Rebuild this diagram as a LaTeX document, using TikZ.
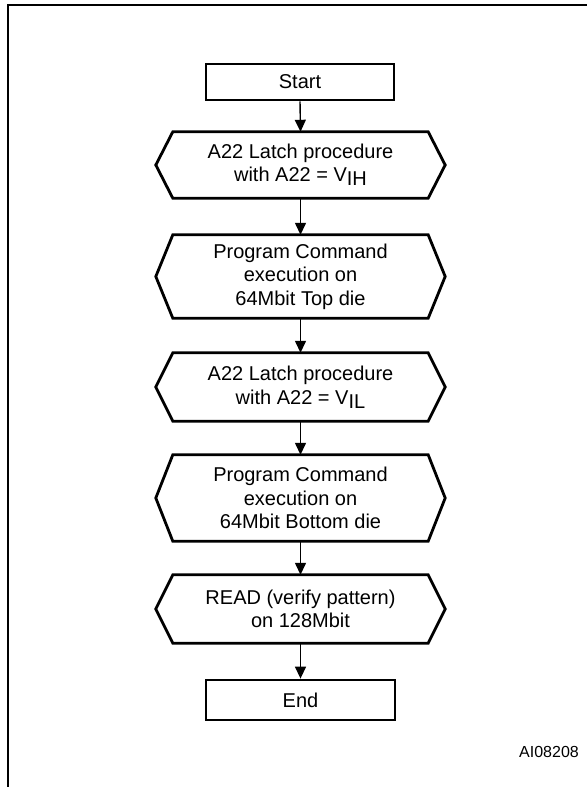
\documentclass[tikz,border=0pt]{standalone}
\usepackage{fontspec}
\setmainfont{Liberation Sans}
\usetikzlibrary{arrows.meta}
\tikzset{
  boxline/.style={line width=2.8pt, line join=miter},
  flowbox/.style={draw, boxline, inner sep=0pt, align=center, font=\fontsize{20pt}{23.5pt}\selectfont},
  hexcore/.style={inner sep=0pt, minimum width=255pt, align=center, font=\fontsize{20pt}{23.5pt}\selectfont},
  flowarrow/.style={line width=1.4pt, -{Triangle[length=12pt,width=11pt]}},
  frameline/.style={line width=2.2pt}
}
\newcommand\hexoutline[1]{\draw[boxline] (#1.north west) -- (#1.north east) -- ([xshift=17pt]#1.east) -- (#1.south east) -- (#1.south west) -- ([xshift=-17pt]#1.west) -- cycle;}
\newcommand\lowsub[1]{\raisebox{-4pt}{#1}}
\begin{document}
\begin{tikzpicture}[x=1pt,y=1pt]
\useasboundingbox (0,0) rectangle (587,-787);
\draw[frameline] (8,-787) -- (8,-5) -- (587,-5);

\node[flowbox, minimum width=188pt, minimum height=36pt] (start) at (300,-82) {Start};
\node[hexcore, minimum height=66pt] (h1) at (300.5,-165) {A22 Latch procedure\\with A22 = V\lowsub{IH}};
\node[hexcore, minimum height=83pt] (h2) at (300.5,-276.5) {Program Command\\execution on\\64Mbit Top die};
\node[hexcore, minimum height=68pt] (h3) at (300.5,-387) {A22 Latch procedure\\with A22 = V\lowsub{IL}};
\node[hexcore, minimum height=86pt] (h4) at (300.5,-498) {Program Command\\execution on\\64Mbit Bottom die};
\node[hexcore, minimum height=68pt] (h5) at (300.5,-609) {READ (verify pattern)\\on 128Mbit};
\node[flowbox, minimum width=189pt, minimum height=40pt] (end) at (300.5,-700) {End};

\hexoutline{h1}
\hexoutline{h2}
\hexoutline{h3}
\hexoutline{h4}
\hexoutline{h5}

\draw[flowarrow] (start.south) -- (h1.north);
\draw[flowarrow] (h1.south) -- (h2.north);
\draw[flowarrow] (h2.south) -- (h3.north);
\draw[flowarrow] (h3.south) -- (h4.north);
\draw[flowarrow] (h4.south) -- (h5.north);
\draw[flowarrow] (h5.south) -- (end.north);

\node[anchor=east, inner sep=0pt, font=\fontsize{16pt}{19pt}\selectfont] (ref) at (579,-752) {AI08208};
\end{tikzpicture}
\end{document}
